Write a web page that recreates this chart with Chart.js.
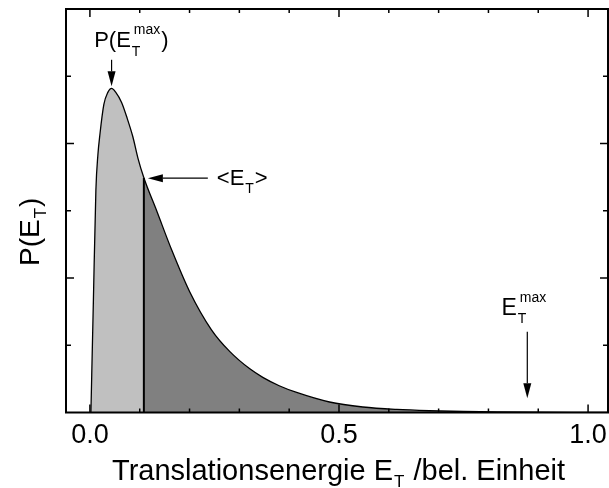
<!DOCTYPE html>
<html>
<head>
<meta charset="utf-8">
<script src="https://cdn.jsdelivr.net/npm/chart.js@4.4.1/dist/chart.umd.min.js"></script>
<style>
html, body { margin: 0; padding: 0; background: #fff; }
canvas { display: block; }
</style>
</head>
<body>
<canvas id="c" width="609" height="488"></canvas>
<script>
// P(E_T) (arbitrary units, y axis 0..6)
var energy      = [0.002, 0.007, 0.012, 0.016, 0.020, 0.028, 0.036, 0.0435, 0.052, 0.0636, 0.075, 0.0862, 0.0965, 0.1083,
                   0.134, 0.164, 0.20, 0.244, 0.281, 0.321, 0.347, 0.38, 0.415, 0.481, 0.548, 0.616, 0.682, 0.75, 0.82, 0.90, 0.97, 1.04];
var probability = [0.0, 1.67, 3.31, 3.83, 4.13, 4.58, 4.76, 4.82, 4.76, 4.61, 4.37, 4.10, 3.78, 3.49,
                   3.00, 2.42, 1.80, 1.23, 0.905, 0.649, 0.523, 0.398, 0.298, 0.156, 0.082, 0.045, 0.026, 0.015, 0.009, 0.005, 0.003, 0.002];
var meanEnergy = 0.1083;   // <E_T>
var meanProb = 3.49;

var xMajor = [0, 0.5, 1.0];
var xMinor = [0.1, 0.2, 0.3, 0.4, 0.6, 0.7, 0.8, 0.9];
var xLabels = ['0.0', '0.5', '1.0'];
var yMajor = [2, 4];
var yMinor = [1, 3, 5];

// arrows: [x0, y0] -> [x1, y1] in data units
var arrows = [
	[[0.0435, 5.245], [0.0435, 4.85]],
	[[0.2367, 3.485], [0.1163, 3.485]],
	[[0.878, 1.20], [0.878, 0.211]]
];
// notes: left x / baseline y in data units; [sub, sup] pairs for indices
var notes = [
	{ x: 0.0086, y: 5.433, size: 22, parts: ['P(E', ['T', 'max'], ')'] },
	{ x: 0.2547, y: 3.385, size: 22, parts: ['<E', ['T', null], '>'] },
	{ x: 0.826, y: 1.451, size: 23, parts: ['E', ['T', 'max']] }
];

var FONT = '"Liberation Sans", Arial, sans-serif';
var LIGHT = '#c0c0c0', DARK = '#808080';

function font(s) { return s + 'px ' + FONT; }

// draws text with sub/superscripts, returns end x
function richText(ctx, x, y, parts, size, small, subDy, supDy) {
	ctx.textAlign = 'left';
	ctx.textBaseline = 'alphabetic';
	for (var i = 0; i < parts.length; i++) {
		var p = parts[i];
		if (typeof p === 'string') {
			ctx.font = font(size);
			ctx.fillText(p, x, y);
			x += ctx.measureText(p).width;
		} else {
			ctx.font = font(small);
			var w = 0;
			if (p[0]) { ctx.fillText(p[0], x + 1, y + subDy); w = ctx.measureText(p[0]).width + 1; }
			if (p[1]) { ctx.fillText(p[1], x + 3, y - supDy); w = Math.max(w, ctx.measureText(p[1]).width + 3); }
			x += w + 1;
		}
	}
	return x;
}

function line(ctx, x0, y0, x1, y1) {
	ctx.beginPath(); ctx.moveTo(x0, y0); ctx.lineTo(x1, y1); ctx.stroke();
}

var decor = {
	id: 'decor',
	afterDraw: function (chart) {
		var ctx = chart.ctx, xs = chart.scales.x, ys = chart.scales.y, a = chart.chartArea;
		ctx.save();
		ctx.strokeStyle = '#000';
		ctx.fillStyle = '#000';

		// frame
		ctx.lineWidth = 2;
		ctx.strokeRect(a.left, a.top, a.right - a.left, a.bottom - a.top);

		// inward ticks on all sides
		ctx.lineWidth = 1.5;
		function xt(v, len) {
			var px = xs.getPixelForValue(v);
			line(ctx, px, a.bottom, px, a.bottom - len);
			line(ctx, px, a.top, px, a.top + len);
		}
		function yt(v, len) {
			var py = ys.getPixelForValue(v);
			line(ctx, a.left, py, a.left + len, py);
			line(ctx, a.right, py, a.right - len, py);
		}
		xMajor.forEach(function (v) { xt(v, 8); });
		xMinor.forEach(function (v) { xt(v, 4); });
		yMajor.forEach(function (v) { yt(v, 8); });
		yMinor.forEach(function (v) { yt(v, 5); });

		// arrows
		ctx.lineWidth = 1.2;
		arrows.forEach(function (ar) {
			var x0 = xs.getPixelForValue(ar[0][0]), y0 = ys.getPixelForValue(ar[0][1]);
			var x1 = xs.getPixelForValue(ar[1][0]), y1 = ys.getPixelForValue(ar[1][1]);
			var ang = Math.atan2(y1 - y0, x1 - x0), hl = 15, hw = 4;
			var bx = x1 - hl * Math.cos(ang), by = y1 - hl * Math.sin(ang);
			line(ctx, x0, y0, bx, by);
			ctx.beginPath();
			ctx.moveTo(x1, y1);
			ctx.lineTo(bx - hw * Math.sin(ang), by + hw * Math.cos(ang));
			ctx.lineTo(bx + hw * Math.sin(ang), by - hw * Math.cos(ang));
			ctx.closePath();
			ctx.fill();
		});

		// notes
		notes.forEach(function (n) {
			richText(ctx, xs.getPixelForValue(n.x), ys.getPixelForValue(n.y), n.parts, n.size, 14, 8.5, 13);
		});

		// axis titles
		richText(ctx, 112, 480, ['Translationsenergie E', ['T', null], ' /bel. Einheit'], 29, 17, 7, 0);
		ctx.translate(39, 266);
		ctx.rotate(-Math.PI / 2);
		richText(ctx, 0, 0, ['P(E', ['T', null], ')'], 28, 17, 7, 0);

		ctx.restore();
	}
};

var curve = energy.map(function (e, i) { return { x: e, y: probability[i] }; });

new Chart(document.getElementById('c'), {
	type: 'line',
	data: {
		datasets: [
			{
				data: [{ x: meanEnergy, y: 0 }, { x: meanEnergy, y: meanProb }],
				borderColor: '#000',
				borderWidth: 2,
				pointRadius: 0,
				fill: false,
				order: 1
			},
			{
				data: curve,
				borderColor: '#000',
				borderWidth: 1.3,
				backgroundColor: LIGHT,
				pointRadius: 0,
				fill: 'origin',
				cubicInterpolationMode: 'monotone',
				segment: {
					backgroundColor: function (c) { return c.p0.parsed.x >= meanEnergy - 1e-6 ? DARK : LIGHT; }
				},
				order: 2
			}
		]
	},
	options: {
		responsive: false,
		animation: false,
		devicePixelRatio: 1,
		layout: { padding: { left: 66, right: 1, top: 9, bottom: 0 } },
		plugins: { legend: { display: false }, tooltip: { enabled: false } },
		scales: {
			x: {
				type: 'linear',
				min: -0.048,
				max: 1.04,
				grid: { display: false, drawTicks: false },
				border: { display: false },
				afterBuildTicks: function (s) { s.ticks = xMajor.map(function (v) { return { value: v }; }); },
				afterFit: function (s) { s.height = 75.5; s.paddingLeft = 0; s.paddingRight = 0; },
				ticks: {
					autoSkip: false,
					maxRotation: 0,
					padding: 7,
					color: '#000',
					font: { family: FONT, size: 27 },
					callback: function (v) { return xLabels[xMajor.indexOf(v)]; }
				}
			},
			y: { display: false, min: 0, max: 6 }
		}
	},
	plugins: [decor]
});
</script>
</body>
</html>
